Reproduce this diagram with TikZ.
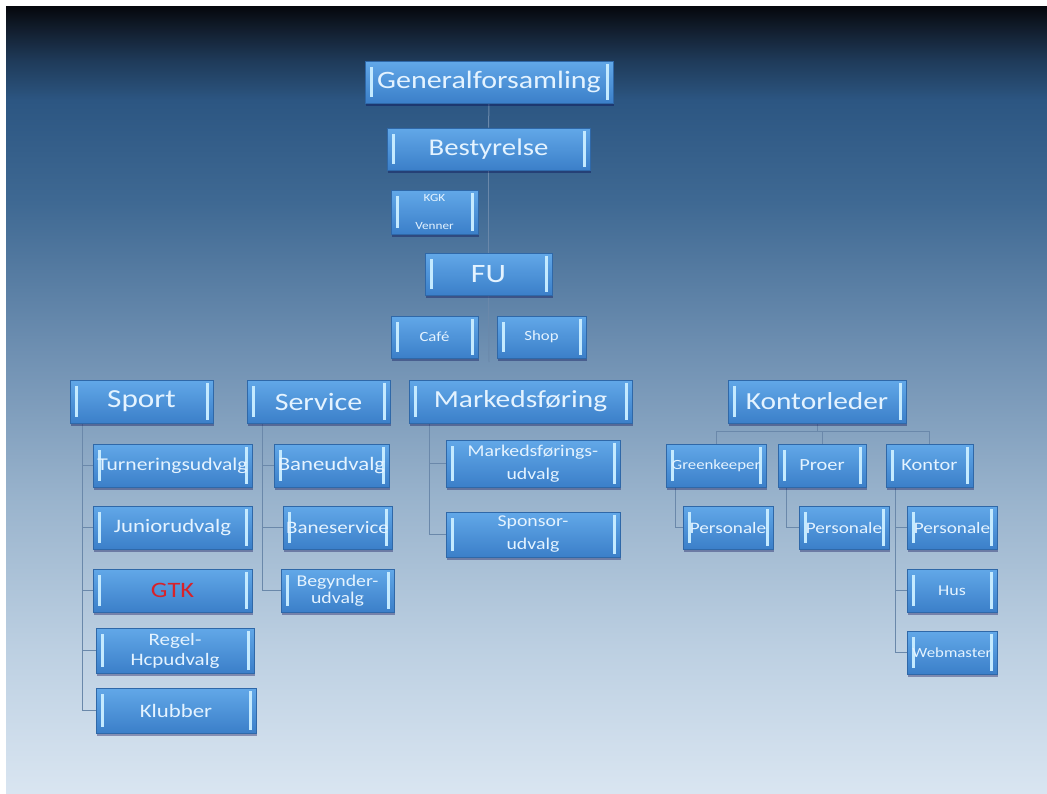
\documentclass[tikz,border=0pt]{standalone}
\usepackage{fontspec}
\setmainfont{Carlito}[FakeStretch=1.2]
\usetikzlibrary{shadows}
\definecolor{bgA}{HTML}{05070C}
\definecolor{bgB}{HTML}{121E2E}
\definecolor{bgC}{HTML}{1F3B5A}
\definecolor{bgD}{HTML}{2C5682}
\definecolor{bgE}{HTML}{3F6993}
\definecolor{bgF}{HTML}{6F90B2}
\definecolor{bgG}{HTML}{9AB4CD}
\definecolor{bgH}{HTML}{BDD0E2}
\definecolor{bgI}{HTML}{D9E5F1}
\definecolor{boxtop}{HTML}{62A8E8}
\definecolor{boxbot}{HTML}{3B7FC9}
\definecolor{boxline}{HTML}{2F68A8}
\definecolor{barc}{HTML}{C4EAFF}
\definecolor{txtc}{HTML}{E4F3FF}
\definecolor{connc}{HTML}{6A88AA}
\definecolor{gtkred}{HTML}{D8222A}
\pgfdeclareverticalshading{bgshade}{100bp}{color(0bp)=(bgI); color(25bp)=(bgI); color(34bp)=(bgH); color(43.5bp)=(bgG); color(53bp)=(bgF); color(62.5bp)=(bgE); color(69bp)=(bgD); color(71.5bp)=(bgC); color(73.5bp)=(bgB); color(75bp)=(bgA); color(100bp)=(bgA)}
\pgfdeclareverticalshading{boxshade}{100bp}{color(0bp)=(boxbot); color(25bp)=(boxbot); color(75bp)=(boxtop); color(100bp)=(boxtop)}
\pgfdeclarelayer{bglayer}
\pgfdeclarelayer{background}
\pgfsetlayers{bglayer,background,main}
\tikzset{
  box/.style={draw=boxline, line width=0.6pt, shading=boxshade, text=txtc,
    inner sep=0pt, align=center, minimum height=43,
    drop shadow={shadow xshift=1pt, shadow yshift=-2.5pt, opacity=0.35, fill=black!70!blue},
    path picture={
      \fill[barc] ([xshift=5pt,yshift=-6pt]path picture bounding box.north west) rectangle ([xshift=7.5pt,yshift=6pt]path picture bounding box.south west);
      \fill[barc] ([xshift=-7.5pt,yshift=-3pt]path picture bounding box.north east) rectangle ([xshift=-4pt,yshift=3pt]path picture bounding box.south east);
    }},
  fs/.style={font=\fontsize{#1}{#1}\selectfont},
  fa/.style={fs=24.5},
  conn/.style={draw=connc, line width=1pt}
}
\begin{document}
\begin{tikzpicture}[x=1pt,y=-1pt]
\begin{pgfonlayer}{bglayer}
\fill[white] (0,0) rectangle (1047,793);
\shade[shading=bgshade] (6,6) rectangle (1047,793);
\end{pgfonlayer}
\useasboundingbox (0,0) rectangle (1047,793);
% top chain
\node[box,fs=25,minimum width=248,minimum height=42] (gen) at (489,82) {Generalforsamling};
\node[box,fs=24,minimum width=203,minimum height=42] (best) at (488.5,149) {Bestyrelse};
\node[box,minimum width=87,minimum height=44,font=\fontsize{11}{28}\selectfont] (kgk) at (434.5,212) {KGK\\Venner};
\node[box,fs=26.5,minimum width=127,minimum height=42] (fu) at (488.5,274) {FU};
\node[box,fs=14,minimum width=87,minimum height=42] (cafe) at (434.5,337) {Café};
\node[box,fs=14,minimum width=89,minimum height=42] (shop) at (541.5,337) {Shop};
\coordinate (trunkend) at (489,362);
% level 2
\node[box,fs=26,minimum width=143] (sport) at (141.5,401.5) {Sport};
\node[box,fs=25,minimum width=143] (service) at (318.5,401.5) {Service};
\node[box,fa,minimum width=223] (mark) at (520.5,401.5) {Markedsføring};
\node[box,fa,minimum width=178] (kontorl) at (817,401.5) {Kontorleder};
% Sport children
\node[box,fs=18,minimum width=159] (turn) at (172.5,465.5) {Turneringsudvalg};
\node[box,fs=19,minimum width=159] (junior) at (172.5,527.5) {Juniorudvalg};
\node[box,fs=22,minimum width=159,text=gtkred] (gtk) at (172.5,590.5) {GTK};
\node[box,minimum width=158,minimum height=45,font=\fontsize{17.5}{20}\selectfont] (regel) at (175,650.5) {Regel-\\Hcpudvalg};
\node[box,fs=19,minimum width=160,minimum height=45] (klub) at (176,710.5) {Klubber};
% Service children
\node[box,fs=19,minimum width=115] (baneu) at (331.5,465.5) {Baneudvalg};
\node[box,fs=17.5,minimum width=109] (banes) at (337.5,527.5) {Baneservice};
\node[box,minimum width=113,font=\fontsize{16.5}{17}\selectfont] (begyn) at (337.5,590.5) {Begynder-\\udvalg};
% Markedsforing children
\node[box,minimum width=174,minimum height=47,font=\fontsize{16.5}{23}\selectfont] (markud) at (533,463.5) {Markedsførings-\\udvalg};
\node[box,minimum width=174,minimum height=45,font=\fontsize{16.5}{23}\selectfont] (spons) at (533,534.5) {Sponsor-\\udvalg};
% Kontorleder children
\node[box,fs=14,minimum width=100] (green) at (716,465.5) {Greenkeeper};
\node[box,fs=17,minimum width=88] (proer) at (822,465.5) {Proer};
\node[box,fs=17,minimum width=87] (kontor) at (929.5,465.5) {Kontor};
\node[box,fs=16,minimum width=90] (persg) at (728,527.5) {Personale};
\node[box,fs=16,minimum width=90] (persp) at (844,527.5) {Personale};
\node[box,fs=16,minimum width=90] (persk) at (952,527.5) {Personale};
\node[box,fs=15,minimum width=90] (hus) at (952,590.5) {Hus};
\node[box,fs=14,minimum width=90] (web) at (952,652.5) {Webmaster};
% connectors
\begin{pgfonlayer}{background}
\draw[conn] (gen.south) -- (best.north);
\draw[conn] (best.south) -- (fu.north);
\draw[conn] (fu.south) -- (trunkend);
\foreach \c in {turn,junior,gtk,regel,klub}
  \draw[conn] ([xshift=13pt]sport.south west) |- (\c.west);
\foreach \c in {baneu,banes,begyn}
  \draw[conn] ([xshift=16pt]service.south west) |- (\c.west);
\foreach \c in {markud,spons}
  \draw[conn] ([xshift=21pt]mark.south west) |- (\c.west);
\foreach \c in {green,proer,kontor}
  \draw[conn] (kontorl.south) -- ++(0,8.5) -| (\c.north);
\draw[conn] ([xshift=10pt]green.south west) |- (persg.west);
\draw[conn] ([xshift=9pt]proer.south west) |- (persp.west);
\foreach \c in {persk,hus,web}
  \draw[conn] ([xshift=10pt]kontor.south west) |- (\c.west);
\end{pgfonlayer}
\end{tikzpicture}
\end{document}
